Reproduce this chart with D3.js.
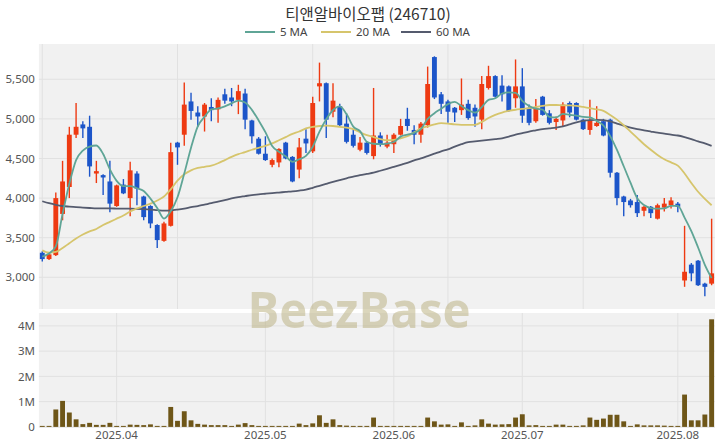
<!DOCTYPE html>
<html><head><meta charset="utf-8">
<script src="https://cdn.jsdelivr.net/npm/d3@7"></script>
<style>
body{margin:0;background:#fff}
svg{display:block}
text{font-family:"Noto Sans","Noto Sans CJK KR",sans-serif}
</style>
</head><body>
<svg id="chart" width="720" height="448"></svg>
<script>
// ---------------- data ----------------
const title = "티앤알바이오팹 (246710)";
const dates = [
"2025-03-17","2025-03-18","2025-03-19","2025-03-20","2025-03-21","2025-03-24","2025-03-25","2025-03-26","2025-03-27","2025-03-28",
"2025-03-31","2025-04-01","2025-04-02","2025-04-03","2025-04-04","2025-04-07","2025-04-08","2025-04-09","2025-04-10","2025-04-11",
"2025-04-14","2025-04-15","2025-04-16","2025-04-17","2025-04-18","2025-04-21","2025-04-22","2025-04-23","2025-04-24","2025-04-25",
"2025-04-28","2025-04-29","2025-04-30","2025-05-02","2025-05-07","2025-05-08","2025-05-09","2025-05-12","2025-05-13","2025-05-14",
"2025-05-15","2025-05-16","2025-05-19","2025-05-20","2025-05-21","2025-05-22","2025-05-23","2025-05-26","2025-05-27","2025-05-28",
"2025-05-29","2025-05-30","2025-06-02","2025-06-04","2025-06-05","2025-06-09","2025-06-10","2025-06-11","2025-06-12","2025-06-13",
"2025-06-16","2025-06-17","2025-06-18","2025-06-19","2025-06-20","2025-06-23","2025-06-24","2025-06-25","2025-06-26","2025-06-27",
"2025-06-30","2025-07-01","2025-07-02","2025-07-03","2025-07-04","2025-07-07","2025-07-08","2025-07-09","2025-07-10","2025-07-11",
"2025-07-14","2025-07-15","2025-07-16","2025-07-17","2025-07-18","2025-07-21","2025-07-22","2025-07-23","2025-07-24","2025-07-25",
"2025-07-28","2025-07-29","2025-07-30","2025-07-31","2025-08-01","2025-08-04","2025-08-05","2025-08-06","2025-08-07","2025-08-08"];

const open = [
3310,3230,3280,3800,4140,4800,4930,4900,4310,4290,
4210,3900,4170,4000,4310,4020,3900,3660,3460,3650,
4700,4800,5220,5080,5030,5150,5120,5310,5270,5240,
5320,4980,4750,4560,4420,4450,4700,4520,4360,4750,
4590,5410,5450,5090,5160,4940,4800,4610,4700,4530,
4790,4650,4680,4800,5000,4860,4800,4920,5780,5310,
5220,5140,5110,5190,5140,4990,5390,5540,5420,5410,
5260,5410,5140,4970,5280,5070,4960,4980,5200,5200,
4990,4860,4910,4970,4990,4320,4020,3970,3950,3840,
3890,3740,3880,3910,3930,2960,3160,3210,2920,2920];
const high = [
3330,3300,4070,4470,4900,5200,4970,5040,4470,4300,
4470,4170,4240,4460,4340,4030,3910,3670,3700,4700,
4710,5460,5330,5160,5200,5260,5270,5380,5390,5430,
5380,4990,4770,4780,4500,4630,4710,4530,4760,4870,
5280,5710,5460,5450,5190,5070,4870,4770,4710,5390,
4830,4800,4820,5000,5140,4920,4960,5660,5790,5340,
5240,5150,5510,5240,5180,5540,5670,5550,5550,5420,
5750,5640,5180,5250,5290,5110,5030,5210,5220,5210,
5000,5240,5160,5000,5000,4330,4030,3990,4040,3900,
3900,3930,4000,4010,3950,3650,3180,3220,2930,3740];
const low = [
3200,3220,3270,3720,4000,4760,4760,4270,4190,4040,
3820,3890,4050,3770,3910,3720,3620,3370,3450,3640,
4420,4660,4990,4900,4840,4970,4950,5190,5160,5060,
4870,4690,4550,4470,4390,4390,4490,4200,4250,4570,
4570,5220,4760,5020,4900,4690,4640,4590,4550,4490,
4650,4630,4570,4790,4850,4680,4700,4890,5250,5060,
4950,4960,5050,4990,4900,4870,5370,5270,5220,5090,
5140,4950,4920,4950,5040,4930,4860,4900,5020,4980,
4860,4800,4900,4780,4260,3910,3770,3880,3760,3770,
3750,3730,3830,3870,3820,2880,2950,2890,2760,2900];
const close = [
3230,3290,4000,4210,4800,4900,4880,4400,4340,4260,
3930,4160,4060,4350,4120,3760,3680,3470,3680,4580,
4640,5180,5100,5030,5180,5110,5240,5230,5220,5350,
4990,4780,4560,4480,4480,4620,4500,4210,4640,4690,
5200,5450,4990,5230,4920,4710,4660,4700,4570,4790,
4680,4700,4800,4910,4910,4800,4940,5440,5270,5190,
5090,5080,5180,5010,5030,5440,5540,5280,5310,5100,
5410,5040,4950,5140,5050,4950,5000,5180,5080,4990,
4870,4980,4950,4790,4320,4000,3950,3910,3810,3890,
3810,3910,3930,3970,3890,3070,3050,2900,2880,3050];
const volume = [
20000,20000,690000,1030000,570000,300000,110000,160000,80000,80000,
160000,20000,20000,90000,80000,70000,100000,30000,30000,790000,
240000,620000,260000,120000,90000,70000,70000,70000,30000,90000,
150000,70000,30000,30000,30000,30000,30000,30000,130000,70000,
140000,460000,160000,300000,70000,50000,30000,30000,30000,370000,
30000,30000,30000,30000,30000,30000,30000,370000,220000,90000,
100000,30000,180000,30000,60000,300000,130000,90000,100000,110000,
370000,500000,60000,70000,30000,30000,90000,90000,40000,40000,
60000,370000,280000,330000,480000,480000,220000,30000,100000,60000,
60000,60000,50000,30000,30000,1280000,260000,260000,490000,4260000];
const ma5 = [
3260,3300,3390,3800,4180,4480,4600,4650,4664,4556,
4362,4218,4150,4152,4124,4090,3994,3876,3742,3834,
4010,4310,4636,4906,5026,5120,5132,5158,5196,5230,
5206,5114,4980,4832,4658,4584,4528,4458,4490,4532,
4648,4838,4994,5112,5158,5060,4902,4844,4712,4686,
4680,4688,4708,4776,4800,4824,4872,5000,5072,5128,
5186,5214,5162,5110,5078,5148,5240,5260,5320,5334,
5328,5228,5162,5128,5118,5026,5018,5064,5052,5040,
5024,5020,4974,4916,4782,4608,4402,4194,3998,3912,
3874,3866,3870,3902,3902,3754,3582,3376,3158,2990];
const ma20 = [
3340,3310,3320,3370,3430,3490,3540,3580,3610,3660,
3700,3740,3780,3830,3870,3900,3930,3970,4020,4110,
4220,4300,4350,4380,4395,4410,4440,4480,4520,4555,
4580,4610,4635,4660,4690,4730,4770,4810,4840,4880,
4900,4910,4915,4910,4900,4890,4870,4830,4795,4770,
4745,4730,4735,4755,4780,4830,4880,4905,4930,4945,
4940,4930,4925,4925,4925,4960,5010,5050,5080,5100,
5115,5125,5135,5150,5165,5175,5175,5170,5170,5165,
5150,5135,5120,5100,5050,4990,4920,4840,4760,4680,
4610,4545,4490,4450,4410,4310,4190,4080,3990,3910];
const ma60 = [
3960,3935,3915,3900,3892,3885,3880,3875,3870,3870,
3870,3868,3866,3866,3864,3860,3855,3848,3842,3845,
3855,3868,3885,3900,3918,3935,3955,3975,3995,4012,
4025,4038,4048,4055,4062,4070,4078,4085,4095,4108,
4130,4155,4180,4205,4228,4250,4270,4290,4305,4320,
4345,4370,4395,4420,4445,4475,4500,4530,4560,4590,
4615,4650,4680,4705,4715,4725,4735,4745,4755,4775,
4800,4820,4840,4855,4870,4880,4890,4905,4930,4955,
4975,4985,4988,4985,4968,4940,4915,4890,4870,4855,
4840,4825,4815,4800,4790,4770,4745,4715,4690,4660];
const priceTicks = [3000,3500,4000,4500,5000,5500];
const volumeTicks = [0,1000000,2000000,3000000,4000000];
const legendLabels = ["5 MA","20 MA","60 MA"];

// ---------------- layout ----------------
const svg = d3.select("#chart");
const L = 38.9, R = 715;
const mainTop = 44, mainBot = 309;
const volTop = 313, volBot = 427;
const colUp = "#ee3a12", colDown = "#1c55c9";
const maColors = ["#5fa596","#d6c56c","#555b6e"];
const gridCol = "#e1e1e1", bgCol = "#f1f1f1";

const x = d3.scaleBand().domain(dates).range([L, R]).paddingInner(0.28).paddingOuter(0.14);
const cx = d => x(d) + x.bandwidth()/2;
const y = d3.scaleLinear().domain([2600, 5945]).range([mainBot, mainTop]);
const yv = d3.scaleLinear().domain([0, 4510000]).range([volBot - 0.1, volTop]);

// title + legend
svg.append("text").attr("x", 368).attr("y", 20).attr("text-anchor","middle")
  .attr("font-size", 15.5).attr("fill","#333")
  .style("font-family","'Noto Sans CJK KR',sans-serif").text(title);
const legX = [245, 321, 401];
legendLabels.forEach((t,i)=>{
  svg.append("line").attr("x1",legX[i]).attr("x2",legX[i]+30).attr("y1",32).attr("y2",32)
    .attr("stroke",maColors[i]).attr("stroke-width",2);
  svg.append("text").attr("x",legX[i]+35).attr("y",36).attr("font-size",11.5).attr("fill","#444").text(t);
});

// panels
svg.append("rect").attr("x",L).attr("y",mainTop).attr("width",R-L).attr("height",mainBot-mainTop).attr("fill",bgCol);
svg.append("rect").attr("x",L).attr("y",volTop).attr("width",R-L).attr("height",volBot-volTop+1).attr("fill",bgCol);

// main grid
const gMainGrid = svg.append("g");
gMainGrid.selectAll("line.h").data(priceTicks).join("line")
  .attr("x1",L).attr("x2",R).attr("y1",d=>y(d)).attr("y2",d=>y(d)).attr("stroke",gridCol);
const mainVIdx = dates.filter((d,i)=> i % 20 === 0);
gMainGrid.selectAll("line.v").data(mainVIdx).join("line")
  .attr("x1",d=>cx(d)).attr("x2",d=>cx(d)).attr("y1",mainTop).attr("y2",mainBot).attr("stroke",gridCol);

// volume grid
const monthStarts = dates.filter((d,i)=> i>0 && d.slice(5,7) !== dates[i-1].slice(5,7));
const gVolGrid = svg.append("g");
gVolGrid.selectAll("line.h").data(volumeTicks).join("line")
  .attr("x1",L).attr("x2",R).attr("y1",d=>yv(d)).attr("y2",d=>yv(d)).attr("stroke",gridCol);
gVolGrid.selectAll("line.v").data(monthStarts).join("line")
  .attr("x1",d=>cx(d)).attr("x2",d=>cx(d)).attr("y1",volTop).attr("y2",volBot).attr("stroke",gridCol);

// watermark
svg.append("text").attr("x",359).attr("y",328).attr("text-anchor","middle")
  .attr("font-size",50).attr("font-weight","bold").attr("fill","#b9ae7c").attr("opacity",0.5)
  .attr("textLength",223).attr("lengthAdjust","spacingAndGlyphs")
  .style("font-family","'Open Sans',sans-serif").text("BeezBase");

// candles
const candles = dates.map((d,i)=>({d, o:open[i], h:high[i], l:low[i], c:close[i], v:volume[i]}));
const gC = svg.append("g");
gC.selectAll("line.wick").data(candles).join("line")
  .attr("x1",d=>cx(d.d)).attr("x2",d=>cx(d.d)).attr("y1",d=>y(d.h)).attr("y2",d=>y(d.l))
  .attr("stroke",d=>d.c>=d.o?colUp:colDown).attr("stroke-width",1.4);
gC.selectAll("rect.body").data(candles).join("rect")
  .attr("x",d=>x(d.d)).attr("width",x.bandwidth())
  .attr("y",d=>y(Math.max(d.o,d.c)))
  .attr("height",d=>Math.max(1.2, Math.abs(y(d.o)-y(d.c))))
  .attr("fill",d=>d.c>=d.o?colUp:colDown);

// MA lines
const lineGen = arr => d3.line().x((v,i)=>cx(dates[i])).y(v=>y(v)).curve(d3.curveMonotoneX)(arr);
[ma60, ma20, ma5].forEach((arr,k)=>{
  const col = [maColors[2],maColors[1],maColors[0]][k];
  svg.append("path").attr("d",lineGen(arr)).attr("fill","none").attr("stroke",col).attr("stroke-width",1.8);
});

// volume bars
svg.append("g").selectAll("rect").data(candles).join("rect")
  .attr("x",d=>x(d.d)).attr("width",x.bandwidth())
  .attr("y",d=>Math.min(yv(d.v), yv(0)-1)).attr("height",d=>Math.max(1, yv(0)-yv(d.v)))
  .attr("fill","#6e5618");

// axes
const styleAxis = g => { g.select(".domain").remove(); g.selectAll("text").attr("fill","#555").attr("font-size",11.5)
  .style("font-family","'Noto Sans',sans-serif"); };
svg.append("g").attr("transform",`translate(${L},0)`)
  .call(d3.axisLeft(y).tickValues(priceTicks).tickFormat(d3.format(",")).tickSize(0).tickPadding(4)).call(styleAxis);
svg.append("g").attr("transform",`translate(${L},0)`)
  .call(d3.axisLeft(yv).tickValues(volumeTicks).tickFormat(v=>v===0?"0":(v/1e6)+"M").tickSize(0).tickPadding(4)).call(styleAxis);
svg.append("g").attr("transform",`translate(0,${volBot})`)
  .call(d3.axisBottom(x).tickValues(monthStarts).tickFormat(d=>d.slice(0,4)+"."+d.slice(5,7)).tickSize(0).tickPadding(4))
  .call(styleAxis);
</script>
</body></html>
